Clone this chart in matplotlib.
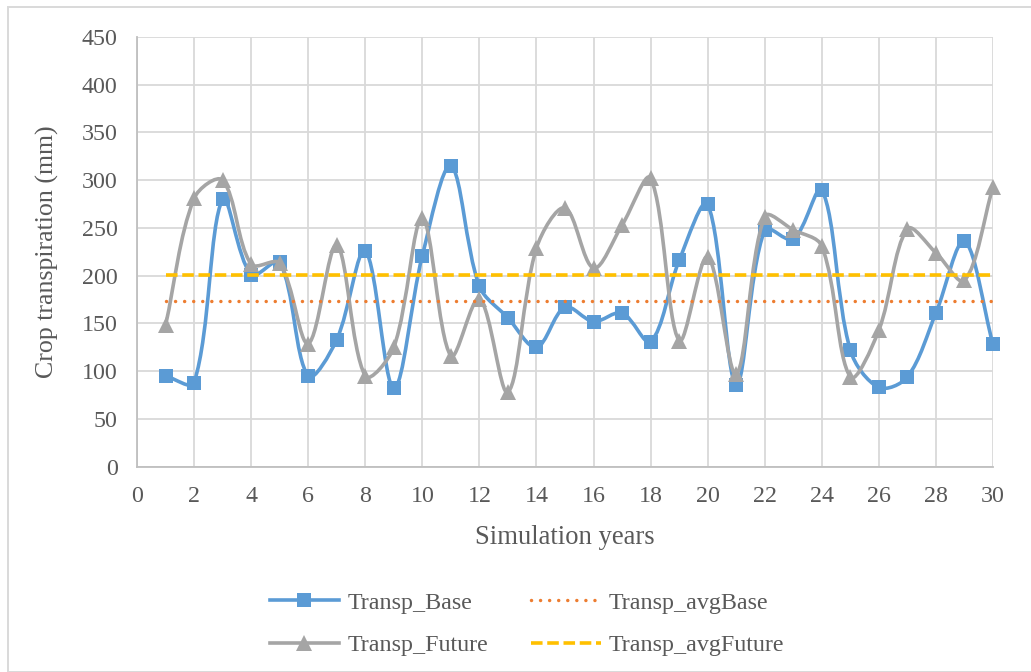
import numpy as np
import matplotlib
matplotlib.use("Agg")
import matplotlib.pyplot as plt
from matplotlib.path import Path
from matplotlib.patches import PathPatch, Rectangle
from matplotlib.lines import Line2D

# ---- data -------------------------------------------------------------
years = list(range(1, 31))
transp_base = [95, 88, 280, 201, 214, 95, 133, 226, 82, 221,
               315, 189, 156, 125, 167, 152, 161, 131, 216, 275,
               86, 248, 238, 290, 122, 83, 94, 161, 236, 128]
transp_future = [148, 281, 300, 212, 213, 129, 232, 95, 125, 260,
                 116, 176, 78, 229, 271, 208, 253, 302, 132, 220,
                 97, 262, 248, 231, 94, 143, 249, 224, 195, 293]
avg_base = 174
avg_future = 201

series_names = ["Transp_Base", "Transp_Future", "Transp_avgBase", "Transp_avgFuture"]
x_ticks = list(range(0, 31, 2))
y_ticks = list(range(0, 451, 50))

# ---- style ------------------------------------------------------------
BLUE = "#5B9BD5"
GREY = "#A5A5A5"
ORANGE = "#ED7D31"
GOLD = "#FFC000"
TEXT = "#595959"
GRID = "#D9D9D9"
LW = 2.6

W, H, DPI = 1031, 672, 100
plt.rcParams["font.family"] = ["Liberation Serif", "DejaVu Serif"]

fig = plt.figure(figsize=(W / DPI, H / DPI), dpi=DPI)
fig.patch.set_facecolor("white")

# chart-area frame
fig.patches.append(Rectangle((8 / W, 0), 1.2, 1 - 7 / H, transform=fig.transFigure,
                             fill=False, edgecolor=GRID, linewidth=1.4, zorder=0))

ax = fig.add_axes([137 / W, 1 - 466.7 / H, (993 - 137) / W, (466.7 - 37) / H])
ax.set_xlim(0, 30)
ax.set_ylim(0, 450)
ax.set_xticks(x_ticks)
ax.set_yticks(y_ticks)
ax.grid(True, color=GRID, linewidth=1.3, zorder=0)
ax.set_axisbelow(True)
for side in ("top", "right"):
    ax.spines[side].set_visible(False)
for side in ("left", "bottom"):
    ax.spines[side].set_color("#BFBFBF")
    ax.spines[side].set_linewidth(1.3)
ax.tick_params(length=0, labelsize=17.3, labelcolor=TEXT)
ax.tick_params(axis="y", pad=14)
ax.tick_params(axis="x", pad=14)


def smooth_path(xs, ys, tension=1.0 / 3.0):
    """Cubic Bezier through the points; tangents are weighted by the
    on-screen segment lengths so short segments do not overshoot."""
    data = np.column_stack([xs, ys]).astype(float)
    pts = ax.transData.transform(data)
    n = len(pts)
    verts = [pts[0]]
    codes = [Path.MOVETO]
    for i in range(n - 1):
        p0 = pts[i - 1] if i > 0 else pts[i]
        p1 = pts[i]
        p2 = pts[i + 1]
        p3 = pts[i + 2] if i + 2 < n else pts[i + 1]
        d01 = np.hypot(*(p1 - p0))
        d12 = np.hypot(*(p2 - p1))
        d23 = np.hypot(*(p3 - p2))
        f1 = tension * d12 / (d01 + d12) if d01 + d12 > 0 else 0.0
        f2 = tension * d12 / (d12 + d23) if d12 + d23 > 0 else 0.0
        c1 = p1 + (p2 - p0) * f1
        c2 = p2 - (p3 - p1) * f2
        verts += [c1, c2, p2]
        codes += [Path.CURVE4] * 3
    verts = ax.transData.inverted().transform(np.array(verts))
    return Path(verts, codes)


# Base series
ax.add_patch(PathPatch(smooth_path(years, transp_base), fill=False, edgecolor=BLUE,
                       linewidth=LW, capstyle="round", joinstyle="round",
                       zorder=3, clip_on=False))
ax.plot(years, transp_base, linestyle="none", marker="s", markersize=10.5,
        color=BLUE, markeredgewidth=0, zorder=4, clip_on=False)

# Future series
ax.add_patch(PathPatch(smooth_path(years, transp_future), fill=False, edgecolor=GREY,
                       linewidth=LW, capstyle="round", joinstyle="round",
                       zorder=5, clip_on=False))
ax.plot(years, transp_future, linestyle="none", marker="^", markersize=11.5,
        color=GREY, markeredgewidth=0, zorder=6, clip_on=False)

# Averages
DOT = (0, (0.01, 2.6))
DASH = (0, (3.2, 1.3))
ax.plot(years, [avg_base] * len(years), color=ORANGE, linewidth=2.5,
        linestyle=DOT, dash_capstyle="round", zorder=7)
ax.plot(years, [avg_future] * len(years), color=GOLD, linewidth=2.6,
        linestyle=DASH, dash_capstyle="butt", zorder=8)

# axis titles
fig.text(565 / W, 1 - 537 / H, "Simulation years", ha="center", va="center",
         fontsize=19.2, color=TEXT)
fig.text(47 / W, 1 - 252 / H, "Crop transpiration (mm)", ha="center", va="center",
         rotation=90, fontsize=18.6, color=TEXT)

# legend
handles = [
    Line2D([], [], color=BLUE, linewidth=LW, marker="s", markersize=10.5, markeredgewidth=0),
    Line2D([], [], color=GREY, linewidth=LW, marker="^", markersize=11.5, markeredgewidth=0),
    Line2D([], [], color=ORANGE, linewidth=2.5, linestyle=DOT, dash_capstyle="round"),
    Line2D([], [], color=GOLD, linewidth=2.6, linestyle=DASH),
]
leg = fig.legend(handles, series_names, ncol=2, loc="center",
                 bbox_to_anchor=(527 / W, 1 - 624 / H), frameon=False,
                 fontsize=17.3, handlelength=2.9, handletextpad=0.33,
                 columnspacing=1.8, labelspacing=0.85, labelcolor=TEXT)

fig.savefig("out.png", dpi=DPI, facecolor="white")
